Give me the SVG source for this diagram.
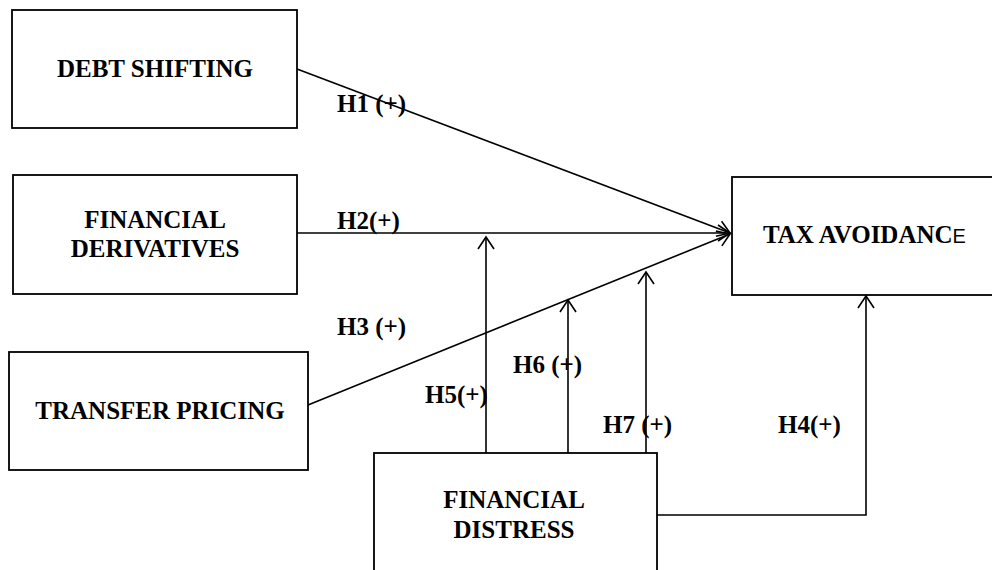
<svg xmlns="http://www.w3.org/2000/svg" width="992" height="570" viewBox="0 0 992 570">
<style>
.box{fill:#fff;stroke:#000;stroke-width:1.8}
.t{font-family:"Liberation Serif","Times New Roman",serif;font-weight:bold;font-size:25px;fill:#000}
.c{fill:none;stroke:#000;stroke-width:1.6}
</style>
<defs>
<marker id="arr" markerUnits="userSpaceOnUse" markerWidth="30" markerHeight="30" refX="0" refY="0" viewBox="-15 -15 30 30" orient="auto">
<path d="M-12,-8 L0,0 L-12,8" fill="none" stroke="#000" stroke-width="1.6"/>
</marker>
</defs>
<rect width="992" height="570" fill="#fff"/>
<g id="connectors">
<line class="c" x1="297" y1="69" x2="730" y2="233" marker-end="url(#arr)"/>
<line class="c" x1="297" y1="233" x2="730" y2="233" marker-end="url(#arr)"/>
<line class="c" x1="308" y1="405" x2="730" y2="234" marker-end="url(#arr)"/>
<line class="c" x1="486" y1="453" x2="486" y2="237" marker-end="url(#arr)"/>
<line class="c" x1="568" y1="453" x2="568" y2="300" marker-end="url(#arr)"/>
<line class="c" x1="646" y1="453" x2="646" y2="272" marker-end="url(#arr)"/>
<polyline class="c" points="657,515 866,515 866,296" marker-end="url(#arr)"/>
</g>
<g id="labels">
<text class="t" x="337" y="112">H1 (+)</text>
<text class="t" x="337" y="229">H2(+)</text>
<text class="t" x="337" y="335">H3 (+)</text>
<text class="t" x="425" y="403">H5(+)</text>
<text class="t" x="513" y="373">H6 (+)</text>
<text class="t" x="603" y="433">H7 (+)</text>
<text class="t" x="778" y="433">H4(+)</text>
</g>
<g id="debt-shifting">
<rect class="box" x="12" y="10" width="285" height="118"/>
<text class="t" x="155" y="77" text-anchor="middle">DEBT SHIFTING</text>
</g>
<g id="financial-derivatives">
<rect class="box" x="13" y="175" width="284" height="119"/>
<text class="t" x="155" y="228" text-anchor="middle">FINANCIAL</text>
<text class="t" x="155" y="257" text-anchor="middle">DERIVATIVES</text>
</g>
<g id="transfer-pricing">
<rect class="box" x="9" y="352" width="299" height="118"/>
<text class="t" x="160" y="419" text-anchor="middle">TRANSFER PRICING</text>
</g>
<g id="tax-avoidance">
<rect class="box" x="732" y="177" width="280" height="118"/>
<text class="t" x="763" y="243">TAX AVOIDANC<tspan font-family="Liberation Sans, Arial, sans-serif" font-weight="normal" font-size="20">E</tspan></text>
</g>
<g id="financial-distress">
<rect class="box" x="374" y="453" width="283" height="140"/>
<text class="t" x="514" y="508" text-anchor="middle">FINANCIAL</text>
<text class="t" x="514" y="538" text-anchor="middle">DISTRESS</text>
</g>
</svg>
